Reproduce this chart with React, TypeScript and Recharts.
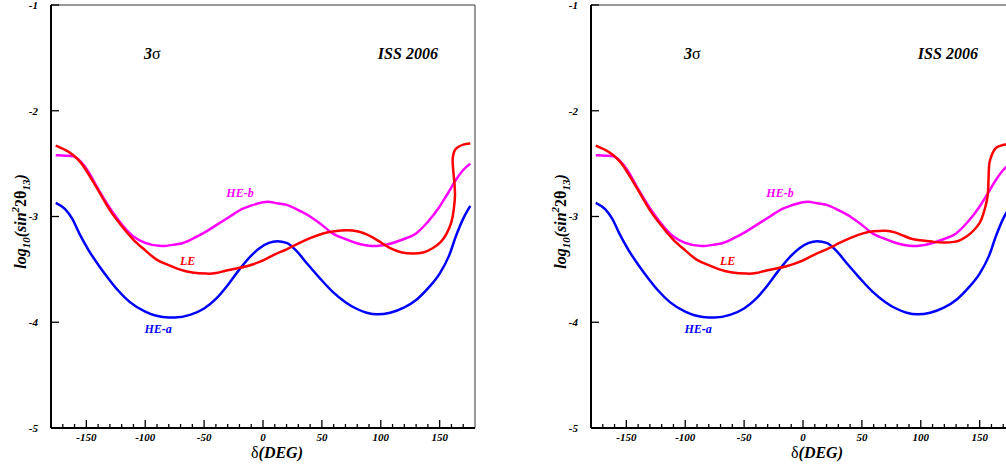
import { LineChart, Line, XAxis, YAxis, ReferenceLine, ReferenceDot } from "recharts";

// delta (deg) and log10(sin^2 2theta13)
const heADelta = [-176, -168, -162, -156, -148, -139, -131, -123, -113, -100, -85, -75, -62, -50, -40, -30, -20, -10, -3, 5, 12, 20, 28, 37, 48, 59, 70, 79, 88, 97, 108, 120, 130, 140, 150, 158, 164, 170, 176];
const heALog = [-2.87, -2.93, -3.02, -3.16, -3.32, -3.47, -3.59, -3.70, -3.81, -3.9, -3.95, -3.955, -3.93, -3.87, -3.78, -3.65, -3.5, -3.37, -3.3, -3.25, -3.235, -3.25, -3.32, -3.44, -3.58, -3.71, -3.81, -3.87, -3.91, -3.925, -3.91, -3.86, -3.79, -3.68, -3.54, -3.37, -3.18, -3.02, -2.9];

const heBDelta = [-176, -168, -161, -155, -148, -141, -134, -127, -118, -110, -100, -86, -75, -68, -58, -48, -38, -28, -18, -11, -2, 4, 12, 20, 30, 40, 50, 59, 69, 79, 86, 93, 100, 107, 118, 130, 140, 150, 157, 164, 170, 176];
const heBLog = [-2.42, -2.425, -2.43, -2.48, -2.58, -2.72, -2.85, -2.97, -3.1, -3.19, -3.25, -3.28, -3.265, -3.25, -3.2, -3.14, -3.07, -3.0, -2.93, -2.9, -2.87, -2.86, -2.875, -2.89, -2.94, -3.0, -3.08, -3.16, -3.21, -3.25, -3.27, -3.28, -3.275, -3.26, -3.22, -3.16, -3.05, -2.905, -2.78, -2.65, -2.56, -2.5];

// LE, left panel
const leDelta = [-176, -168, -161, -154, -147, -139, -130, -120, -110, -100, -90, -80, -71, -60, -48, -40, -31, -22, -14, -3, 8, 20, 31, 41, 51, 61, 71, 80, 88, 98, 108, 118, 127, 136, 144, 151, 156, 160, 162, 163, 162.5, 161.5, 161, 161.5, 163, 166, 170, 176];
const leLog = [-2.33, -2.37, -2.42, -2.5, -2.62, -2.77, -2.94, -3.09, -3.22, -3.32, -3.41, -3.46, -3.5, -3.53, -3.54, -3.535, -3.51, -3.49, -3.47, -3.43, -3.37, -3.31, -3.25, -3.2, -3.16, -3.14, -3.13, -3.14, -3.17, -3.23, -3.3, -3.34, -3.35, -3.34, -3.3, -3.24, -3.16, -3.05, -2.93, -2.8, -2.68, -2.56, -2.47, -2.42, -2.37, -2.34, -2.32, -2.31];

// LE, right panel
const le2Delta = [-176, -168, -161, -154, -147, -139, -130, -120, -110, -100, -90, -80, -71, -60, -48, -40, -31, -22, -14, -3, 8, 20, 31, 41, 51, 60, 70, 78, 85, 92, 100, 111, 120, 128, 134, 140, 145, 150, 153, 155.5, 157, 157.5, 158, 159, 161, 164, 168, 172, 176];
const le2Log = [-2.33, -2.37, -2.42, -2.5, -2.62, -2.77, -2.94, -3.09, -3.22, -3.32, -3.41, -3.46, -3.5, -3.53, -3.54, -3.535, -3.51, -3.49, -3.47, -3.43, -3.37, -3.31, -3.25, -3.2, -3.16, -3.14, -3.135, -3.15, -3.18, -3.21, -3.225, -3.24, -3.245, -3.24, -3.22, -3.18, -3.13, -3.06, -2.98, -2.88, -2.78, -2.65, -2.52, -2.46, -2.4, -2.35, -2.33, -2.32, -2.32];

const xTicks = [-170, -160, -150, -140, -130, -120, -110, -100, -90, -80, -70, -60, -50, -40, -30, -20, -10, 0, 10, 20, 30, 40, 50, 60, 70, 80, 90, 100, 110, 120, 130, 140, 150, 160, 170];
const yTicks = [-5, -4, -3, -2, -1];

const zip = (ds: number[], vs: number[]) => ds.map((d, i) => ({ d, v: vs[i] }));

const FONT = "'Liberation Serif', 'Times New Roman', serif";

const XTick = (props: any) => {
  const { x, y, payload } = props;
  const major = payload.value % 50 === 0;
  return (
    <g>
      <line x1={x} x2={x} y1={y} y2={y - (major ? 8 : 4)} stroke="#000" strokeWidth={1.3} />
      {major && (
        <text x={x} y={y + 13} textAnchor="middle" fontFamily={FONT} fontSize={11} fontWeight="bold" fontStyle="italic" fill="#000">
          {payload.value}
        </text>
      )}
    </g>
  );
};

const YTick = (props: any) => {
  const { x, y, payload } = props;
  return (
    <g>
      <line x1={x} x2={x + 8} y1={y} y2={y} stroke="#000" strokeWidth={1.3} />
      <text x={x - 13} y={y} dy="0.35em" textAnchor="end" fontFamily={FONT} fontSize={11} fontWeight="bold" fontStyle="italic" fill="#000">
        {payload.value}
      </text>
    </g>
  );
};

const note = (text: string, color: string, size: number, anchor: string, upright?: string) => (p: any) => {
  const vb = p.viewBox;
  return (
    <text x={vb.x + vb.width / 2} y={vb.y + vb.height / 2} dy="0.35em" textAnchor={anchor} fontFamily={FONT} fontSize={size} fontWeight="bold" fontStyle="italic" fill={color}>
      {text}
      {upright && <tspan fontStyle="normal" fontWeight="normal">{upright}</tspan>}
    </text>
  );
};

const XTitle = (p: any) => {
  const vb = p.viewBox;
  return (
    <text x={vb.x + vb.width / 2 + 14} y={vb.y + 30} textAnchor="middle" fontFamily={FONT} fontSize={16} fill="#000">
      <tspan>δ</tspan>
      <tspan fontWeight="bold" fontStyle="italic">(DEG)</tspan>
    </text>
  );
};

const YTitle = (p: any) => {
  const vb = p.viewBox;
  const cx = vb.x + 26;
  const cy = vb.y + vb.height / 2 + 5;
  return (
    <text x={cx} y={cy} transform={`rotate(-90 ${cx} ${cy})`} textAnchor="middle" fontFamily={FONT} fontSize={16} fontWeight="bold" fontStyle="italic" fill="#000">
      <tspan>log</tspan>
      <tspan fontSize={11} dy={4}>10</tspan>
      <tspan dy={-4}>(sin</tspan>
      <tspan fontSize={11} dy={-7}>2</tspan>
      <tspan dy={7} fontStyle="normal">2θ</tspan>
      <tspan fontSize={11} dy={4}>13</tspan>
      <tspan dy={-4}>)</tspan>
    </text>
  );
};

const Panel = ({ le }: { le: { d: number; v: number }[] }) => (
  <LineChart width={540} height={467} margin={{ top: 5, right: 65, bottom: 0, left: 0 }}>
    <XAxis
      type="number"
      dataKey="d"
      domain={[-180, 180]}
      ticks={xTicks}
      interval={0}
      height={39}
      tickSize={0}
      tickMargin={0}
      tickLine={false}
      axisLine={{ stroke: "#000", strokeWidth: 2 }}
      tick={<XTick />}
      label={{ content: <XTitle /> }}
      allowDataOverflow
    />
    <YAxis
      type="number"
      domain={[-5, -1]}
      ticks={yTicks}
      interval={0}
      width={51}
      tickSize={0}
      tickMargin={0}
      tickLine={false}
      axisLine={{ stroke: "#000", strokeWidth: 2 }}
      tick={<YTick />}
      label={{ content: <YTitle /> }}
      allowDataOverflow
    />
    <ReferenceLine y={-1} stroke="#333" strokeWidth={1} />
    <ReferenceLine x={180} stroke="#777" strokeWidth={1.5} />
    <Line data={zip(heADelta, heALog)} dataKey="v" type="monotone" stroke="#0000ff" strokeWidth={2.5} dot={false} isAnimationActive={false} />
    <Line data={zip(heBDelta, heBLog)} dataKey="v" type="monotone" stroke="#ff00ff" strokeWidth={2.5} dot={false} isAnimationActive={false} />
    <Line data={le} dataKey="v" type="natural" stroke="#ff0000" strokeWidth={2.5} dot={false} isAnimationActive={false} />
    <ReferenceDot x={-101} y={-1.454} r={0} fill="none" stroke="none" label={{ content: note("3", "#000", 16, "start", "σ") }} />
    <ReferenceDot x={148.5} y={-1.454} r={0} fill="none" stroke="none" label={{ content: note("ISS 2006", "#000", 16, "end") }} />
    <ReferenceDot x={-19.5} y={-2.773} r={0} fill="none" stroke="none" label={{ content: note("HE-b", "#ff00ff", 12, "middle") }} />
    <ReferenceDot x={-64} y={-3.42} r={0} fill="none" stroke="none" label={{ content: note("LE", "#ff0000", 12, "middle") }} />
    <ReferenceDot x={-89} y={-4.064} r={0} fill="none" stroke="none" label={{ content: note("HE-a", "#0000ff", 12, "middle") }} />
  </LineChart>
);

export default function App() {
  return (
    <div style={{ position: "absolute", left: 0, top: 0, width: 1006, height: 467, overflow: "hidden", background: "#fff", display: "flex" }}>
      <div style={{ flex: "0 0 540px" }}>
        <Panel le={zip(leDelta, leLog)} />
      </div>
      <div style={{ flex: "0 0 540px" }}>
        <Panel le={zip(le2Delta, le2Log)} />
      </div>
    </div>
  );
}
